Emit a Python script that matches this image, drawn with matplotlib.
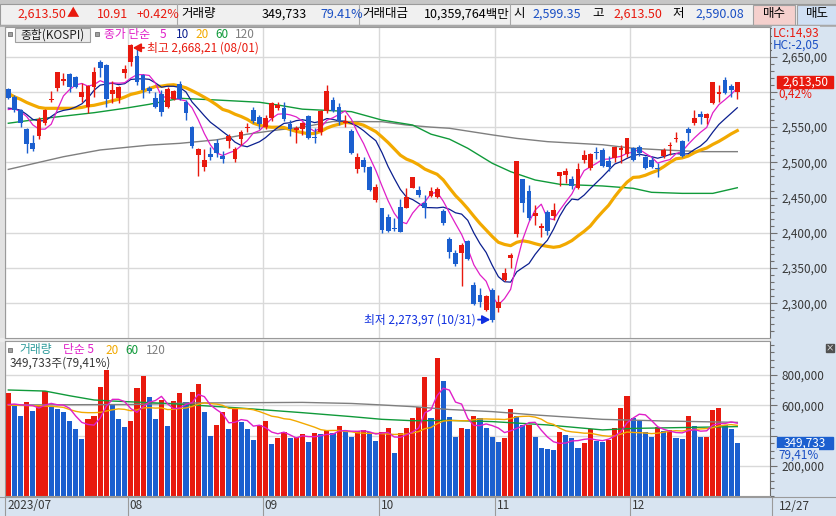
import numpy as np
import pandas as pd
import matplotlib
matplotlib.use("Agg")
import matplotlib.pyplot as plt
import matplotlib.transforms as mtransforms
from matplotlib.patches import Rectangle
from matplotlib.ticker import FixedLocator, MultipleLocator, FuncFormatter

plt.rcParams['font.family'] = ['Noto Sans CJK KR', 'DejaVu Sans']

# ---------------- data ----------------
open_ = [2603.6, 2593.2, 2574.3, 2547.4, 2527.5, 2537.9, 2556.3, 2588.5, 2605.1, 2615.9,
         2624.9, 2621.6, 2593.2, 2578.1, 2607.4, 2642.9, 2638.2, 2597.0, 2590.9, 2626.4,
         2642.9, 2651.0, 2624.0, 2606.0, 2591.8, 2597.0, 2579.0, 2589.5, 2610.7, 2586.1,
         2549.7, 2510.5, 2493.9, 2511.4, 2527.0, 2509.0, 2530.3, 2504.3, 2533.2, 2549.2,
         2574.3, 2564.9, 2549.7, 2562.5, 2577.6, 2576.7, 2554.5, 2546.0, 2546.9, 2565.8,
         2536.5, 2543.6, 2572.9, 2588.5, 2579.0, 2555.4, 2545.0, 2490.1, 2503.4, 2493.9,
         2446.6, 2434.8, 2423.0, 2407.3, 2436.2, 2435.7, 2464.1, 2460.8, 2442.8, 2452.3,
         2450.4, 2431.0, 2390.8, 2370.9, 2370.9, 2388.4, 2326.0, 2311.8, 2290.5, 2318.9,
         2292.9, 2333.1, 2364.8, 2398.4, 2475.9, 2459.4, 2424.4, 2406.4, 2430.0, 2423.9,
         2480.7, 2482.1, 2475.9, 2464.1, 2503.4, 2491.5, 2514.2, 2517.6, 2501.9, 2505.7,
         2517.6, 2511.4, 2519.9, 2521.3, 2508.1, 2503.4, 2492.5, 2509.0, 2523.2, 2533.6,
         2530.3, 2547.4, 2555.4, 2568.6, 2563.4, 2584.7, 2596.6, 2616.9, 2608.4, 2599.35]
high_ = [2605.5, 2596.0, 2576.0, 2549.0, 2538.8, 2564.9, 2575.7, 2601.3, 2628.7, 2626.4,
         2626.4, 2622.5, 2612.2, 2609.8, 2635.8, 2645.3, 2639.0, 2615.9, 2608.4, 2638.2,
         2668.21, 2664.2, 2626.0, 2609.0, 2600.0, 2602.7, 2607.4, 2603.0, 2615.5, 2588.0,
         2551.0, 2520.9, 2519.0, 2522.3, 2532.7, 2516.0, 2539.8, 2522.3, 2546.0, 2555.4,
         2579.0, 2567.0, 2567.0, 2586.0, 2586.0, 2586.0, 2560.0, 2551.6, 2557.7, 2567.0,
         2548.3, 2574.3, 2609.8, 2593.0, 2583.8, 2567.0, 2548.0, 2512.8, 2508.0, 2495.0,
         2469.3, 2435.0, 2426.7, 2420.6, 2447.6, 2463.2, 2479.7, 2466.5, 2453.7, 2465.5,
         2465.5, 2433.4, 2394.6, 2375.6, 2385.1, 2389.8, 2330.7, 2321.3, 2311.8, 2321.3,
         2311.8, 2350.6, 2371.0, 2502.4, 2476.0, 2467.9, 2439.5, 2414.5, 2432.4, 2441.9,
         2486.8, 2491.5, 2480.7, 2498.6, 2517.6, 2512.8, 2521.3, 2520.0, 2509.0, 2522.3,
         2524.6, 2535.0, 2522.3, 2524.6, 2509.0, 2508.1, 2499.6, 2520.0, 2529.4, 2542.6,
         2531.7, 2549.7, 2574.3, 2572.9, 2570.5, 2614.5, 2609.8, 2621.6, 2611.2, 2613.50]
low_ = [2590.0, 2572.0, 2549.7, 2513.8, 2516.0, 2533.2, 2553.0, 2585.2, 2601.8, 2609.8,
        2600.3, 2605.0, 2586.0, 2569.6, 2593.2, 2620.7, 2579.0, 2584.7, 2583.8, 2620.2,
        2636.8, 2609.8, 2590.9, 2598.0, 2577.0, 2565.8, 2576.7, 2588.0, 2588.5, 2560.1,
        2519.9, 2481.0, 2488.0, 2503.4, 2508.1, 2498.6, 2519.9, 2501.0, 2524.7, 2543.6,
        2555.4, 2546.9, 2548.0, 2558.7, 2574.3, 2558.7, 2537.4, 2528.0, 2538.9, 2532.7,
        2527.0, 2538.9, 2570.5, 2572.0, 2553.0, 2549.7, 2512.0, 2485.4, 2487.0, 2459.9,
        2443.3, 2400.3, 2401.6, 2403.0, 2400.8, 2434.8, 2463.2, 2451.3, 2420.6, 2450.4,
        2449.0, 2411.0, 2363.8, 2353.4, 2324.6, 2361.5, 2297.6, 2295.2, 2289.6, 2273.97,
        2288.0, 2332.0, 2350.6, 2394.6, 2430.0, 2418.2, 2411.1, 2393.6, 2397.0, 2418.2,
        2466.5, 2470.3, 2462.2, 2462.2, 2499.6, 2489.2, 2504.3, 2494.0, 2488.2, 2501.0,
        2499.6, 2508.0, 2502.4, 2509.0, 2490.6, 2491.5, 2479.7, 2505.7, 2510.5, 2528.4,
        2507.0, 2530.3, 2552.6, 2554.5, 2554.5, 2582.8, 2585.2, 2597.0, 2593.2, 2590.08]
close_ = [2591.8, 2574.3, 2555.4, 2525.6, 2519.0, 2561.6, 2574.3, 2590.0, 2627.8, 2617.8,
          2606.5, 2607.4, 2600.3, 2608.8, 2628.7, 2634.4, 2589.5, 2602.7, 2606.5, 2632.0,
          2666.6, 2614.5, 2602.7, 2601.0, 2579.0, 2572.0, 2603.6, 2601.3, 2589.5, 2569.6,
          2523.2, 2519.0, 2503.4, 2508.1, 2513.8, 2504.3, 2537.4, 2519.0, 2542.6, 2550.7,
          2558.7, 2554.5, 2562.5, 2584.7, 2581.4, 2561.6, 2546.9, 2548.3, 2555.4, 2535.0,
          2534.1, 2572.9, 2601.3, 2573.4, 2558.7, 2558.7, 2513.8, 2508.1, 2493.9, 2460.8,
          2465.5, 2404.0, 2403.1, 2405.9, 2401.7, 2450.4, 2478.8, 2453.7, 2434.8, 2459.4,
          2462.2, 2414.4, 2373.3, 2355.8, 2382.8, 2362.4, 2298.6, 2302.3, 2310.4, 2276.3,
          2301.4, 2342.5, 2368.1, 2501.9, 2442.8, 2420.6, 2427.7, 2410.2, 2403.1, 2432.4,
          2485.9, 2487.8, 2466.9, 2490.6, 2510.5, 2511.9, 2512.8, 2494.9, 2493.9, 2521.3,
          2519.9, 2534.1, 2503.4, 2513.8, 2492.5, 2493.9, 2491.0, 2517.6, 2524.7, 2535.0,
          2509.0, 2542.2, 2562.5, 2564.9, 2568.6, 2613.6, 2599.9, 2598.0, 2602.59, 2613.50]
volume_k = [678, 597, 531, 619, 564, 597, 696, 586, 573, 553, 493, 440, 374, 506, 531, 723,
            835, 601, 506, 454, 493, 712, 791, 652, 506, 634, 465, 628, 678, 623, 690, 738,
            557, 398, 471, 553, 440, 575, 487, 440, 368, 471, 493, 341, 385, 420, 381, 392,
            412, 359, 418, 412, 436, 418, 465, 432, 392, 432, 436, 425, 365, 425, 451, 286,
            414, 447, 518, 586, 789, 513, 914, 762, 524, 392, 447, 440, 531, 518, 447, 392,
            359, 381, 575, 531, 467, 472, 392, 315, 308, 306, 420, 402, 385, 319, 348, 440,
            363, 360, 370, 447, 579, 663, 518, 498, 425, 392, 458, 432, 436, 381, 380, 531,
            465, 387, 392, 570, 579, 469, 440, 349.733]

month_labels = ["2023/07", "08", "09", "10", "11", "12"]
month_counts = [20, 22, 19, 19, 22, 18]
last_label = "12/27"
max_date = "08/01"
min_date = "10/31"

# moving-average values read where the history before July is needed
ma5_head = [2575, 2576, 2572, 2565]
ma10_head = [2577, 2576, 2574, 2568, 2561, 2559, 2559, 2565, 2571]
ma20_head = [2598, 2593, 2589.5, 2585, 2581.4, 2578, 2576.7, 2576.7, 2576.7, 2576.7,
             2576.7, 2577, 2578, 2580, 2581, 2583, 2585, 2587.5, 2589.5]
ma60_idx = [0, 6, 14, 19, 23, 28, 34, 41, 44, 48, 53, 56, 61, 66, 69, 72, 75, 79, 82, 86,
            90, 97, 102, 105, 110, 115, 119]
ma60_val = [2555.5, 2562.6, 2570.5, 2576.7, 2582.4, 2590.9, 2588.5, 2585.3, 2581.4, 2575.5,
            2573.3, 2572, 2560, 2553, 2540, 2533, 2520, 2498.7, 2486.8, 2475, 2468.9, 2466.5,
            2463.2, 2457.5, 2456, 2456, 2464]
ma120_idx = [0, 9, 15, 23, 28, 34, 39, 44, 48, 53, 61, 65, 69, 72, 79, 83, 88, 97, 102, 107,
             113, 119]
ma120_val = [2490, 2508, 2517.6, 2524.5, 2527, 2532, 2540, 2546, 2550, 2558, 2557.7, 2553,
             2550, 2548.4, 2539, 2534, 2529.4, 2525, 2520, 2517.6, 2515.2, 2515.2]
vma5_head_k = [605, 608, 603, 600]
vma20_head_k = [602, 600, 599, 598, 597, 596, 595, 593, 590, 586, 572, 560, 553, 551, 551,
                553, 562, 570, 576]
vma60_idx = [0, 6, 10, 14, 17, 26, 37, 48, 56, 61, 66, 72, 79, 88, 97, 102, 119]
vma60_k = [701, 694, 663, 635, 628, 612, 584, 551, 525, 507, 498, 500, 492, 470, 437, 447, 459]
vma120_idx = [0, 20, 30, 48, 56, 61, 66, 72, 79, 86, 97, 107, 119]
vma120_k = [602, 605, 615, 619, 612, 602, 591, 572, 558, 536, 507, 496, 487]

# ---------------- styling ----------------
RED = '#e8190e'
BLUE = '#1b5fcf'
MAG = '#e01fc8'
NAVY = '#0b1f8f'
ORANGE = '#f2a900'
GREEN = '#109a3a'
GRAY = '#7f7f7f'
TEAL = '#2b9a9a'
GRID = '#d9d9d9'
AXBG = '#d8e4f1'
TXT = '#383838'
HBLUE = '#1a4fc4'

W, H = 837, 516
fig = plt.figure(figsize=(W / 100, H / 100), dpi=100)
fig.patch.set_facecolor('white')


def frac_rect(x0, y0, x1, y1):
    return [x0 / W, 1 - y1 / H, (x1 - x0) / W, (y1 - y0) / H]


bg = fig.add_axes([0, 0, 1, 1], zorder=0)
bg.set_xlim(0, W); bg.set_ylim(H, 0); bg.axis('off')

# header
bg.add_patch(Rectangle((0, 0), W, 4, color='#c6c6c6'))
bg.add_patch(Rectangle((0, 4), W, 21, facecolor='#f0f0f0', edgecolor='#9a9a9a', lw=0.8))
for xs in [177, 359, 510]:
    bg.plot([xs, xs], [4, 25], color='#a8a8a8', lw=0.8)
bg.add_patch(Rectangle((753, 4.5), 42, 20, facecolor='#f5d0cd', edgecolor='#a0a0a0', lw=0.8))
bg.add_patch(Rectangle((797, 4.5), 40, 20, facecolor='#d0e0f4', edgecolor='#a0a0a0', lw=0.8))
bg.add_patch(Rectangle((0, 25), W, 2, color='#a8a8a8'))
# right axis area, left strip, bottom strip
bg.add_patch(Rectangle((770, 27), W - 770, 469, color=AXBG))
bg.add_patch(Rectangle((0, 27), 5, 469, color='#e2e2e2'))
bg.add_patch(Rectangle((0, 338), 770, 3, color='#ececec'))
bg.add_patch(Rectangle((0, 496), W, 20, color=AXBG))
bg.plot([0, W], [496.5, 496.5], color='#9a9a9a', lw=0.8)
bg.plot([772.5, 772.5], [497, 516], color='#9a9a9a', lw=0.8)

ax = fig.add_axes(frac_rect(5, 27, 770, 338), zorder=2)
axv = fig.add_axes(frac_rect(5, 341, 770, 496), zorder=2)
ov = fig.add_axes([0, 0, 1, 1], zorder=6)
ov.set_xlim(0, W); ov.set_ylim(H, 0); ov.axis('off')

n = len(close_)
idx = np.arange(n)
o = np.array(open_); h = np.array(high_); l = np.array(low_); c = np.array(close_)
vol = np.array(volume_k) * 1000.0

xl = (-0.54, 124.34)
bounds = np.cumsum(month_counts)[:-1] - 0.5
xt = np.concatenate([[xl[0]], bounds])

for a in (ax, axv):
    a.set_xlim(*xl)
    a.set_facecolor('white')
    for s in a.spines.values():
        s.set_color('#9a9a9a'); s.set_linewidth(0.8)
    a.spines['right'].set_color('#6a6a6a')
    a.set_xticks(xt)
    a.grid(axis='x', color=GRID, lw=1.0, zorder=0)
    a.grid(axis='y', color=GRID, lw=1.0, zorder=0)
    a.yaxis.tick_right()
    a.tick_params(axis='y', which='both', direction='out', colors='#707070',
                  labelcolor=TXT, labelsize=8.5, pad=3)
    a.tick_params(axis='y', which='major', length=5, width=0.8)
    a.tick_params(axis='y', which='minor', length=3, width=0.8)

# ---------------- price panel ----------------
ax.set_ylim(2250.75, 2692.1)
ax.yaxis.set_major_locator(FixedLocator(np.arange(2300, 2651, 50)))
ax.yaxis.set_minor_locator(MultipleLocator(10))
last_c = close_[-1]
ax.yaxis.set_major_formatter(FuncFormatter(
    lambda v, p: "" if abs(v - last_c) < 25 else f"{v:,.2f}".replace('.', ',')))
ax.tick_params(axis='x', length=0, labelbottom=False)

up = c >= o
ccol = np.where(up, RED, BLUE)

cs = pd.Series(c)
ma5 = cs.rolling(5).mean().to_numpy(); ma5[:4] = ma5_head
ma10 = cs.rolling(10).mean().to_numpy(); ma10[:9] = ma10_head
ma20 = cs.rolling(20).mean().to_numpy(); ma20[:19] = ma20_head

ax.plot(ma120_idx, ma120_val, color=GRAY, lw=1.0, zorder=3)
ax.plot(ma60_idx, ma60_val, color=GREEN, lw=1.0, zorder=3)
ax.plot(idx, ma20, color=ORANGE, lw=2.3, zorder=3)
ax.plot(idx, ma10, color=NAVY, lw=0.9, zorder=3)
ax.plot(idx, ma5, color=MAG, lw=0.9, zorder=3)

ax.vlines(idx, l, h, colors=ccol, lw=1.0, zorder=4)
body_lo = np.minimum(o, c)
body_h = np.maximum(np.abs(c - o), 1.4)
ax.bar(idx, body_h, bottom=body_lo, width=0.78, color=ccol, lw=0, zorder=5)

# max / min annotations
imax = int(np.argmax(h)); imin = int(np.argmin(l))
off_hi = mtransforms.offset_copy(ax.transData, fig=fig, x=2, y=-4, units='dots')
ax.annotate(f"최고 {h[imax]:,.2f} ({max_date})".replace('.', ','),
            xy=(imax, h[imax]), xycoords=off_hi,
            xytext=(14, 0), textcoords='offset pixels', color=RED, fontsize=8.5,
            va='center', ha='left', zorder=7,
            arrowprops=dict(arrowstyle='-|>,head_length=0.55,head_width=0.3', color=RED,
                            lw=1.3, shrinkA=0, shrinkB=0, relpos=(0, 0.5)))
off_lo = mtransforms.offset_copy(ax.transData, fig=fig, x=-2, y=2, units='dots')
ax.annotate(f"최저 {l[imin]:,.2f} ({min_date})".replace('.', ','),
            xy=(imin, l[imin]), xycoords=off_lo,
            xytext=(-15, 0), textcoords='offset pixels', color='#1030e0', fontsize=8.5,
            va='center', ha='right', zorder=7,
            arrowprops=dict(arrowstyle='-|>,head_length=0.55,head_width=0.3', color='#1030e0',
                            lw=1.3, shrinkA=0, shrinkB=0, relpos=(1, 0.5)))

# ---------------- volume panel ----------------
axv.set_ylim(0, 1025000)
axv.yaxis.set_major_locator(FixedLocator([200000, 400000, 600000, 800000]))
axv.yaxis.set_minor_locator(MultipleLocator(50000))
last_v = volume_k[-1] * 1000.0
axv.yaxis.set_major_formatter(FuncFormatter(
    lambda v, p: "" if abs(v - last_v) < 70000 else f"{int(v):,}"))

vcol = [RED] + [RED if vol[i] > vol[i - 1] else BLUE for i in range(1, n)]
axv.bar(idx, vol, width=0.84, color=vcol, lw=0, zorder=2)
vs = pd.Series(vol)
vma5 = vs.rolling(5).mean().to_numpy(); vma5[:4] = np.array(vma5_head_k) * 1000
vma20 = vs.rolling(20).mean().to_numpy(); vma20[:19] = np.array(vma20_head_k) * 1000
axv.plot(vma120_idx, np.array(vma120_k) * 1000, color=GRAY, lw=1.0, zorder=3)
axv.plot(vma60_idx, np.array(vma60_k) * 1000, color=GREEN, lw=1.0, zorder=3)
axv.plot(idx, vma20, color=ORANGE, lw=1.0, zorder=3)
axv.plot(idx, vma5, color=MAG, lw=1.0, zorder=3)

axv.set_xticklabels(month_labels)
axv.tick_params(axis='x', length=14.4, width=0.8, color='#9a9a9a', pad=-12.5,
                labelsize=8.5, labelcolor=TXT)
shift = mtransforms.ScaledTranslation(2 / 100, 0, fig.dpi_scale_trans)
for lab in axv.get_xticklabels():
    lab.set_horizontalalignment('left')
    lab.set_transform(lab.get_transform() + shift)

# ---------------- overlay texts ----------------
fs = 9
yh = 14
ov.text(17, yh, "2,613.50", color=RED, fontsize=fs, va='center')
ov.text(67, yh, "▲", color=RED, fontsize=9, va='center')
ov.text(97, yh, "10.91", color=RED, fontsize=fs, va='center')
ov.text(137, yh, "+0.42%", color=RED, fontsize=fs, va='center')
ov.text(181, yh, "거래량", color='black', fontsize=fs, va='center')
ov.text(307, yh, "349,733", color='black', fontsize=fs, va='center', ha='right')
ov.text(320, yh, "79.41%", color=HBLUE, fontsize=fs, va='center')
ov.text(362, yh, "거래대금", color='black', fontsize=fs, va='center')
ov.text(424, yh, "10,359,764백만", color='black', fontsize=fs, va='center')
ov.text(513, yh, "시", color='black', fontsize=fs, va='center')
ov.text(532, yh, "2,599.35", color=HBLUE, fontsize=fs, va='center')
ov.text(592, yh, "고", color='black', fontsize=fs, va='center')
ov.text(613, yh, "2,613.50", color=RED, fontsize=fs, va='center')
ov.text(672, yh, "저", color='black', fontsize=fs, va='center')
ov.text(695, yh, "2,590.08", color=HBLUE, fontsize=fs, va='center')
ov.text(774, yh, "매수", color='black', fontsize=fs, va='center', ha='center')
ov.text(817, yh, "매도", color='black', fontsize=fs, va='center', ha='center')

# price legend
ov.add_patch(Rectangle((8, 31.5), 4.5, 4.5, facecolor='#a0a0a0', edgecolor='#707070', lw=0.6))
ov.add_patch(Rectangle((15, 28), 75, 13.5, facecolor='#ececec', edgecolor='#a0a0a0', lw=0.8))
ov.text(52.5, 34.8, "종합(KOSPI)", color='#202020', fontsize=8.5, va='center', ha='center')
ov.add_patch(Rectangle((95, 31.5), 4.5, 4.5, facecolor='#a0a0a0', edgecolor='#707070', lw=0.6))
yl = 34.8
ov.text(104, yl, "종가 단순", color=MAG, fontsize=8.5, va='center')
ov.text(160, yl, "5", color=MAG, fontsize=8.5, va='center')
ov.text(176, yl, "10", color=NAVY, fontsize=8.5, va='center')
ov.text(195, yl, "20", color=ORANGE, fontsize=8.5, va='center')
ov.text(215, yl, "60", color=GREEN, fontsize=8.5, va='center')
ov.text(235, yl, "120", color=GRAY, fontsize=8.5, va='center')

# right axis texts
ov.text(773, 33, "LC:14,93", color=RED, fontsize=8.5, va='center',
        bbox=dict(boxstyle='square,pad=0.05', fc=AXBG, ec='none'))
ov.text(773, 45.5, "HC:-2,05", color=HBLUE, fontsize=8.5, va='center',
        bbox=dict(boxstyle='square,pad=0.05', fc=AXBG, ec='none'))


def ypix(a, v):
    return H - a.transData.transform((0, v))[1]


yc = ypix(ax, c[-1])
ov.add_patch(Rectangle((777, yc - 6), 56, 12, color=RED))
ov.text(805, yc, f"{c[-1]:,.2f}".replace('.', ','), color='white', fontsize=8.5,
        va='center', ha='center')
ov.text(778, yc + 12, "0,42%", color=RED, fontsize=8.5, va='center')

yv = ypix(axv, vol[-1])
ov.add_patch(Rectangle((777, yv - 6), 56, 12, color=BLUE))
ov.text(805, yv, f"{int(round(vol[-1])):,}", color='white', fontsize=8.5,
        va='center', ha='center')
ov.text(778, yv + 12, "79,41%", color=HBLUE, fontsize=8.5, va='center',
        bbox=dict(boxstyle='square,pad=0.05', fc=AXBG, ec='none'))
ov.add_patch(Rectangle((826, 344), 8, 8, color='#505050'))
ov.text(830, 348, "×", color='white', fontsize=6, va='center', ha='center')

# volume legend
ov.add_patch(Rectangle((8, 347.5), 4.5, 4.5, facecolor='#a0a0a0', edgecolor='#707070', lw=0.6))
yl2 = 350
ov.text(19, yl2, "거래량", color=TEAL, fontsize=8.5, va='center')
ov.text(63, yl2, "단순 5", color=MAG, fontsize=8.5, va='center')
ov.text(105, yl2, "20", color=ORANGE, fontsize=8.5, va='center')
ov.text(125, yl2, "60", color=GREEN, fontsize=8.5, va='center')
ov.text(146, yl2, "120", color=GRAY, fontsize=8.5, va='center')
ov.text(10, 363, "349,733주(79,41%)", color=TXT, fontsize=8.5, va='center')

ov.text(779, 506, last_label, color=TXT, fontsize=8.5, va='center', ha='left')

fig.savefig("out.png", dpi=100, facecolor=fig.get_facecolor())
